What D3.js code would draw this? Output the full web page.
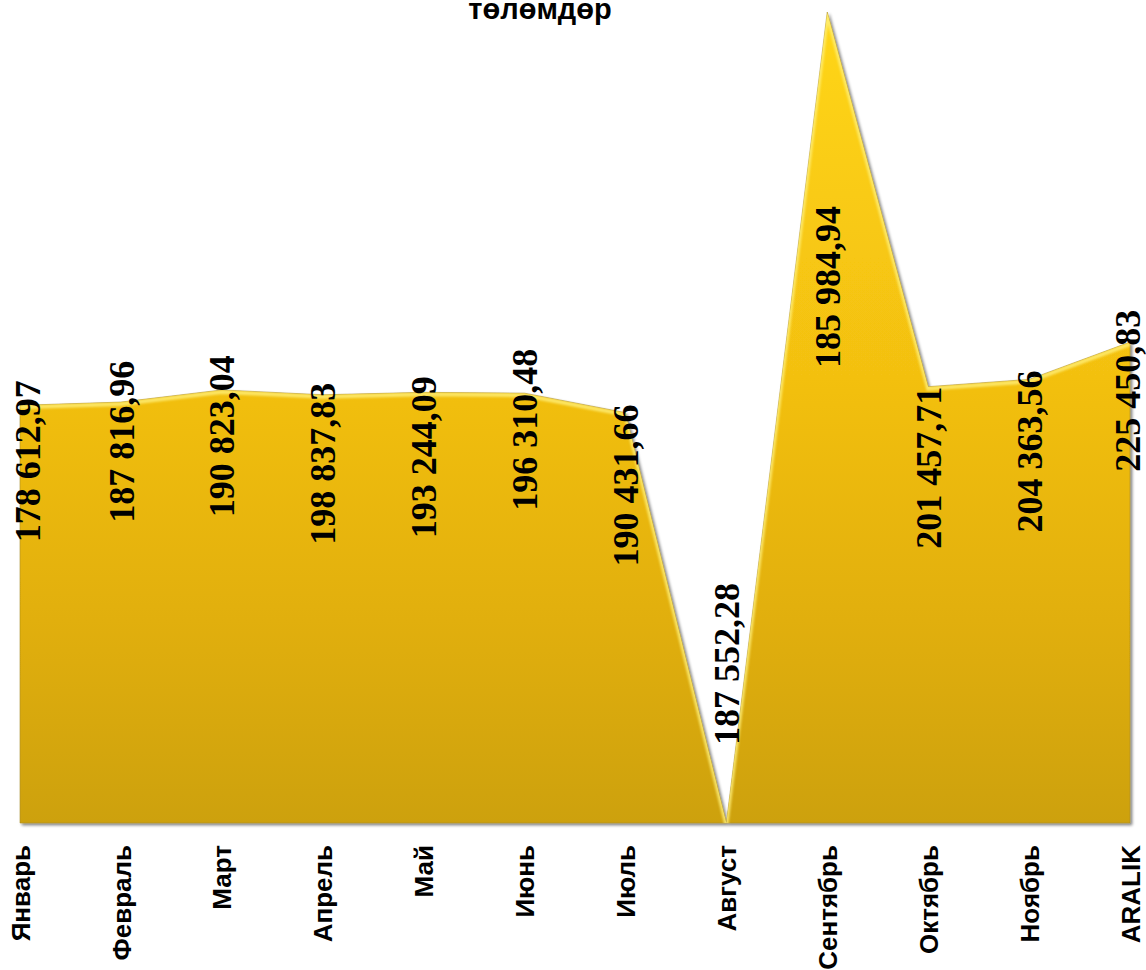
<!DOCTYPE html>
<html>
<head>
<meta charset="utf-8">
<script src="https://cdn.jsdelivr.net/npm/d3@7"></script>
<style>
  body { margin: 0; background: #fff; }
  svg { display: block; }
</style>
</head>
<body>
<div id="chart"></div>
<script>
// categories along the bottom
var months = ['Январь', 'Февраль', 'Март', 'Апрель', 'Май', 'Июнь', 'Июль',
    'Август', 'Сентябрь', 'Октябрь', 'Ноябрь', 'ARALIK'];

// area heights as drawn (relative units, peak = 100)
var areaValues = [51.5, 51.9, 53.4, 52.8, 53.1, 53.0, 50.6, 0, 100, 53.8, 54.7, 59.3];

// data label texts
var labelTexts = ['178 612,97', '187 816,96', '190 823,04', '198 837,83', '193 244,09',
    '196 310,48', '190 431,66', '187 552,28', '185 984,94', '201 457,71', '204 363,56', '225 450,83'];

// where each label sits (centre, same units as areaValues)
var labelLevels = [44.6, 47.0, 47.7, 44.3, 45.1, 48.5, 41.6, 19.6, 66.1, 43.8, 45.8, 53.3];

var titleText = 'төлөмдөр';

var width = 1146, height = 970;
var margin = { left: 20, right: 16, top: 12, bottom: 147 };

var svg = d3.select('#chart').append('svg')
    .attr('width', width)
    .attr('height', height);

var x = d3.scalePoint()
    .domain(months)
    .range([margin.left, width - margin.right]);

var y = d3.scaleLinear()
    .domain([0, 100])
    .range([height - margin.bottom, margin.top]);

var defs = svg.append('defs');

var grad = defs.append('linearGradient')
    .attr('id', 'gold')
    .attr('gradientUnits', 'userSpaceOnUse')
    .attr('x1', 0).attr('x2', 0)
    .attr('y1', y(100)).attr('y2', y(0));
grad.append('stop').attr('offset', '0%').attr('stop-color', '#ffd614');
grad.append('stop').attr('offset', '45%').attr('stop-color', '#f3c011');
grad.append('stop').attr('offset', '75%').attr('stop-color', '#e1af0c');
grad.append('stop').attr('offset', '100%').attr('stop-color', '#cda10f');

// soft shadow below/right of the shape
var shadow = defs.append('filter').attr('id', 'shadow')
    .attr('x', '-5%').attr('y', '-5%').attr('width', '110%').attr('height', '110%');
shadow.append('feGaussianBlur').attr('in', 'SourceAlpha').attr('stdDeviation', 1.5).attr('result', 'b');
shadow.append('feOffset').attr('in', 'b').attr('dx', 2).attr('dy', 2).attr('result', 'o');
shadow.append('feComponentTransfer').attr('in', 'o').attr('result', 's')
    .append('feFuncA').attr('type', 'linear').attr('slope', 0.5);
var merge = shadow.append('feMerge');
merge.append('feMergeNode').attr('in', 's');
merge.append('feMergeNode').attr('in', 'SourceGraphic');

var blur = defs.append('filter').attr('id', 'soft');
blur.append('feGaussianBlur').attr('stdDeviation', 1.2);

var area = d3.area()
    .x(function (d, i) { return x(months[i]); })
    .y0(y(0))
    .y1(function (d) { return y(d); });

defs.append('clipPath').attr('id', 'areaClip')
    .append('path')
    .attr('d', area(areaValues));

svg.append('path')
    .datum(areaValues)
    .attr('d', area)
    .attr('fill', 'url(#gold)')
    .attr('stroke', '#a88a20')
    .attr('stroke-opacity', 0.55)
    .attr('stroke-width', 1)
    .attr('filter', 'url(#shadow)');

// bevel: light edge along the top, darker edge along the bottom
var bevel = svg.append('g').attr('clip-path', 'url(#areaClip)');
bevel.append('path')
    .datum(areaValues)
    .attr('d', d3.line()
        .x(function (d, i) { return x(months[i]); })
        .y(function (d) { return y(d) + 2; }))
    .attr('fill', 'none')
    .attr('stroke', '#fff07a')
    .attr('stroke-opacity', 0.8)
    .attr('stroke-width', 4)
    .attr('filter', 'url(#soft)');
bevel.append('line')
    .attr('x1', x(months[0])).attr('x2', x(months[months.length - 1]))
    .attr('y1', y(0) - 3).attr('y2', y(0) - 3)
    .attr('stroke', '#9c7c10')
    .attr('stroke-opacity', 0.5)
    .attr('stroke-width', 5)
    .attr('filter', 'url(#soft)');
bevel.append('line')
    .attr('x1', x(months[months.length - 1]) - 2).attr('x2', x(months[months.length - 1]) - 2)
    .attr('y1', y(100)).attr('y2', y(0))
    .attr('stroke', '#9c7c10')
    .attr('stroke-opacity', 0.5)
    .attr('stroke-width', 4)
    .attr('filter', 'url(#soft)');

// data labels
svg.append('g')
    .selectAll('text')
    .data(labelTexts)
    .enter()
    .append('text')
    .attr('transform', function (d, i) {
        var cx = Math.max(27, Math.min(1127, x(months[i])));
        return 'translate(' + cx + ',' + y(labelLevels[i]) + ') rotate(-90)';
    })
    .attr('text-anchor', 'middle')
    .attr('dy', '0.35em')
    .style('font-family', '"Liberation Serif", "Times New Roman", serif')
    .style('font-weight', 'bold')
    .style('font-size', '36px')
    .style('fill', '#000')
    .text(function (d) { return d; });

// category axis labels
var xAxis = d3.axisBottom(x).tickSize(0).tickPadding(0);
var axisG = svg.append('g')
    .attr('transform', 'translate(0,' + y(0) + ')')
    .call(xAxis);
axisG.select('.domain').remove();
axisG.selectAll('text')
    .attr('transform', 'translate(0,22) rotate(-90)')
    .attr('x', 0)
    .attr('y', 0)
    .attr('dy', '0.35em')
    .attr('text-anchor', 'end')
    .style('font-family', '"Liberation Sans", Arial, sans-serif')
    .style('font-weight', 'bold')
    .style('font-size', '26px')
    .style('fill', '#000');

// title (partly cut at the top edge)
svg.append('text')
    .attr('x', 540)
    .attr('y', 19)
    .attr('text-anchor', 'middle')
    .style('font-family', '"Liberation Sans", Arial, sans-serif')
    .style('font-weight', 'bold')
    .style('font-size', '29px')
    .text(titleText);
</script>
</body>
</html>
